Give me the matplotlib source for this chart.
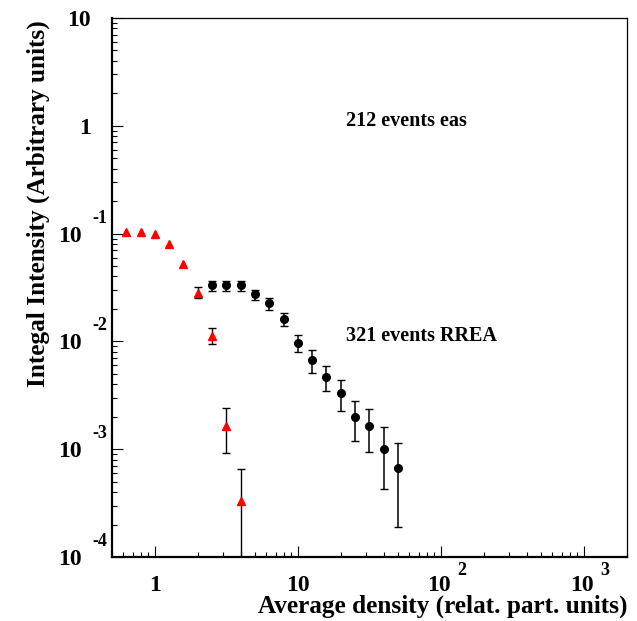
import numpy as np
import matplotlib
matplotlib.use("Agg")
import matplotlib.pyplot as plt
from matplotlib.ticker import LogLocator, NullFormatter

# eas data (red triangles)
eas_x = [0.631, 0.794, 1.0, 1.26, 1.58, 2.0, 2.51, 3.16, 3.98]
eas_y = [0.104, 0.104, 0.0998, 0.0796, 0.0523, 0.0279, 0.0113, 0.00164, 0.000329]
eas_lo = [0.104, 0.104, 0.0998, 0.0796, 0.0523, 0.0254, 0.0094, 0.00093, 0.00001]
eas_hi = [0.104, 0.104, 0.0998, 0.0796, 0.0523, 0.0318, 0.0133, 0.00241, 0.00066]

# RREA data (black circles)
rrea_x = [2.51, 3.16, 3.98, 5.01, 6.31, 7.94, 10.0, 12.6, 15.8, 20.0, 25.1, 31.6, 39.8, 50.1]
rrea_y = [0.0334, 0.0331, 0.0331, 0.0273, 0.0226, 0.0160, 0.00972, 0.00672,
          0.00467, 0.00334, 0.00200, 0.00165, 0.000998, 0.000665]
rrea_lo = [0.0296, 0.0296, 0.0296, 0.0242, 0.0197, 0.0138, 0.00792, 0.00508,
           0.00344, 0.00227, 0.00118, 0.00094, 0.000425, 0.000190]
rrea_hi = [0.0363, 0.0363, 0.0363, 0.0300, 0.0251, 0.0185, 0.0114, 0.0083,
           0.0059, 0.00442, 0.00282, 0.00235, 0.00159, 0.00113]

x_ticks = [1, 10, 100, 1000]
x_exps = ["", "", "2", "3"]
y_ticks = [10, 1, 0.1, 0.01, 0.001, 0.0001]
y_exps = ["", "", "-1", "-2", "-3", "-4"]

W, H = 637, 621
font = "Liberation Serif"
plt.rcParams["font.family"] = font
plt.rcParams["font.weight"] = "bold"

fig = plt.figure(figsize=(W / 100, H / 100), dpi=100)
ax = fig.add_axes([112 / W, 1 - 557 / H, (627 - 112) / W, (557 - 18) / H])
ax.set_xscale("log")
ax.set_yscale("log")
ax.set_xlim(0.5, 2000)
ax.set_ylim(1e-4, 10)

# error bars only where they stick out of the marker
ex = np.array(eas_x)
ey = np.array(eas_y)
elo = ey - np.array(eas_lo)
ehi = np.array(eas_hi) - ey
m = ehi > 0
ax.errorbar(ex[m], ey[m], yerr=[elo[m], ehi[m]], fmt="none", ecolor="black",
            elinewidth=1.0, capsize=3, capthick=1.0, zorder=2)
ax.plot(ex, ey, "^", color="red", ms=6, mec="red", zorder=3)

ry = np.array(rrea_y)
ax.errorbar(rrea_x, ry, yerr=[ry - np.array(rrea_lo), np.array(rrea_hi) - ry],
            fmt="o", color="black", ms=5.5, elinewidth=1.1, capsize=3,
            capthick=1.0, zorder=3)

ax.text(21.5, 1.0, "212 events eas", fontsize=14.5, fontweight="bold", va="baseline")
ax.text(21.5, 0.01, "321 events RREA", fontsize=14.5, fontweight="bold", va="baseline")

# frame and ticks
for s in ["left", "bottom"]:
    ax.spines[s].set_linewidth(1.6)
for s in ["top", "right"]:
    ax.spines[s].set_linewidth(0.9)
ax.xaxis.set_major_locator(LogLocator(base=10, numticks=20))
ax.xaxis.set_minor_locator(LogLocator(base=10, subs=np.arange(2, 10), numticks=20))
ax.yaxis.set_major_locator(LogLocator(base=10, numticks=20))
ax.yaxis.set_minor_locator(LogLocator(base=10, subs=np.arange(2, 10), numticks=20))
ax.xaxis.set_major_formatter(NullFormatter())
ax.xaxis.set_minor_formatter(NullFormatter())
ax.yaxis.set_major_formatter(NullFormatter())
ax.yaxis.set_minor_formatter(NullFormatter())
ax.tick_params(which="both", direction="in", top=False, right=False, width=0.8)
ax.tick_params(which="major", length=7.8)
ax.tick_params(which="minor", length=3.8)

# ROOT style tick labels
for xv, e in zip(x_ticks, x_exps):
    dx = -2 if e else 0
    ax.annotate("10" if xv >= 10 else "1", xy=(xv, 0), xycoords=("data", "axes fraction"),
                xytext=(dx, -34), textcoords="offset pixels", ha="center",
                va="baseline", fontsize=17, fontweight="bold")
    if e:
        ax.annotate(e, xy=(xv, 0), xycoords=("data", "axes fraction"),
                    xytext=(16, -18), textcoords="offset pixels", ha="left",
                    va="baseline", fontsize=13, fontweight="bold")

for yv, e in zip(y_ticks, y_exps):
    lab = "1" if yv == 1 else "10"
    dx = -30 if e else -21
    ax.annotate(lab, xy=(0, yv), xycoords=("axes fraction", "data"),
                xytext=(dx, -8), textcoords="offset pixels", ha="right",
                va="baseline", fontsize=17, fontweight="bold")
    if e:
        ax.annotate(e, xy=(0, yv), xycoords=("axes fraction", "data"),
                    xytext=(-20, 11), textcoords="offset pixels", ha="left",
                    va="baseline", fontsize=13, fontweight="bold")

fig.text(627 / W, 1 - 613 / H, "Average density (relat. part. units)",
         ha="right", va="baseline", fontsize=18.2, fontweight="bold")
fig.text(45 / W, 1 - 20 / H, "Integal Intensity (Arbitrary units)",
         ha="right", va="baseline", rotation=90, rotation_mode="anchor",
         fontsize=18.2, fontweight="bold")

fig.savefig("out.png", dpi=100)
